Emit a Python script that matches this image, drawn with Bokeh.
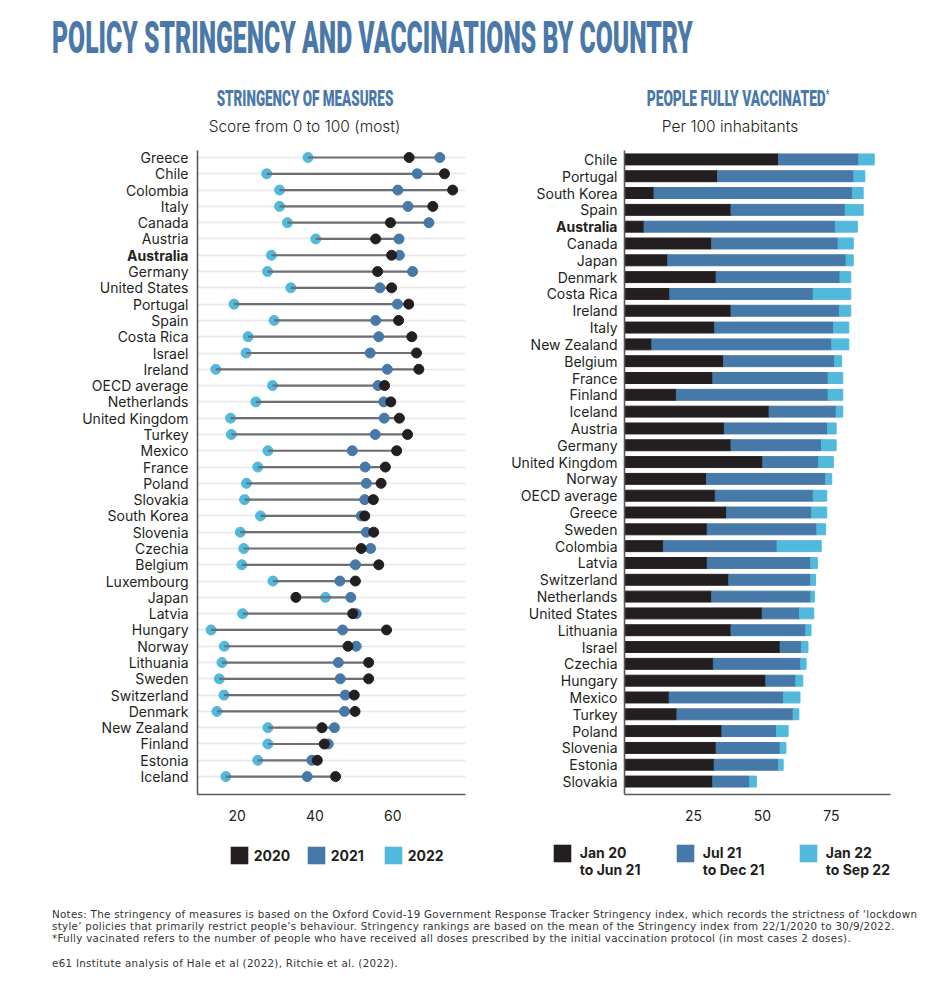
from bokeh.plotting import figure
from bokeh.models import Range1d, FixedTicker, Legend, LegendItem, Div, ColumnDataSource
from bokeh.layouts import row, column
from bokeh.embed import file_html
from bokeh.resources import INLINE
from bokeh.core.properties import value

FONT = "Inter"
BLACK = "#231f20"
BLUE = "#4678a8"
LIGHT = "#50b9dc"
TITLE_BLUE = "#4a78a8"
TEXT = "#231f20"

# ---------------- data: stringency of measures ----------------
strin_countries = ["Greece", "Chile", "Colombia", "Italy", "Canada", "Austria", "Australia",
                   "Germany", "United States", "Portugal", "Spain", "Costa Rica", "Israel",
                   "Ireland", "OECD average", "Netherlands", "United Kingdom", "Turkey",
                   "Mexico", "France", "Poland", "Slovakia", "South Korea", "Slovenia",
                   "Czechia", "Belgium", "Luxembourg", "Japan", "Latvia", "Hungary", "Norway",
                   "Lithuania", "Sweden", "Switzerland", "Denmark", "New Zealand", "Finland",
                   "Estonia", "Iceland"]
strin_2020 = [64.2, 73.3, 75.4, 70.3, 59.4, 55.6, 59.7, 56.1, 59.7, 64.1, 61.5, 64.9, 66.1,
              66.7, 57.9, 59.5, 61.7, 63.8, 61.0, 58.1, 57.0, 55.0, 52.8, 55.1, 51.9, 56.4,
              50.4, 35.1, 49.7, 58.4, 48.5, 53.8, 53.8, 50.1, 50.3, 41.8, 42.4, 40.6, 45.3]
strin_2021 = [72.1, 66.3, 61.3, 63.9, 69.3, 61.6, 61.7, 65.1, 56.7, 61.2, 55.6, 56.4, 54.2,
              58.6, 56.2, 57.7, 57.8, 55.5, 49.6, 52.9, 53.2, 52.8, 51.9, 53.2, 54.3, 50.4,
              46.4, 49.2, 50.6, 47.1, 50.6, 46.0, 46.5, 47.8, 47.6, 45.0, 43.4, 39.2, 38.0]
strin_2022 = [38.2, 27.6, 30.9, 30.9, 32.9, 40.2, 28.8, 27.8, 33.8, 19.2, 29.5, 22.8, 22.3,
              14.5, 29.1, 24.8, 18.3, 18.5, 27.9, 25.3, 22.4, 21.9, 26.0, 20.8, 21.7, 21.2,
              29.2, 42.7, 21.4, 13.3, 16.7, 16.1, 15.4, 16.6, 14.8, 27.9, 27.9, 25.3, 17.1]
strin_ticks = [20, 40, 60]
strin_years = ["2020", "2021", "2022"]

# ---------------- data: people fully vaccinated ----------------
vax_countries = ["Chile", "Portugal", "South Korea", "Spain", "Australia", "Canada", "Japan",
                 "Denmark", "Costa Rica", "Ireland", "Italy", "New Zealand", "Belgium",
                 "France", "Finland", "Iceland", "Austria", "Germany", "United Kingdom",
                 "Norway", "OECD average", "Greece", "Sweden", "Colombia", "Latvia",
                 "Switzerland", "Netherlands", "United States", "Lithuania", "Israel",
                 "Czechia", "Hungary", "Mexico", "Turkey", "Poland", "Slovenia", "Estonia",
                 "Slovakia"]
vax_jan20_jun21 = [55.8, 33.7, 10.7, 38.6, 7.1, 31.6, 15.7, 33.2, 16.4, 38.6, 32.7, 9.9, 35.9,
                   32.0, 18.8, 52.4, 36.2, 38.6, 50.1, 29.7, 32.9, 37.0, 30.0, 14.1, 30.0,
                   37.8, 31.6, 49.9, 38.6, 56.4, 32.2, 51.2, 16.2, 19.0, 35.3, 33.2, 32.5, 32.0]
vax_jul21_dec21 = [29.1, 49.4, 71.9, 41.4, 69.3, 45.8, 64.6, 44.9, 52.0, 39.3, 43.1, 65.2, 40.2,
                   41.8, 55.0, 24.3, 37.4, 32.8, 20.3, 43.2, 35.5, 30.8, 39.7, 41.2, 37.5,
                   29.7, 35.9, 13.5, 27.1, 7.7, 31.7, 10.9, 41.4, 42.1, 19.8, 23.2, 23.3, 13.4]
vax_jan22_sep22 = [5.6, 4.0, 3.9, 6.5, 8.0, 5.5, 2.6, 3.9, 13.6, 4.1, 5.5, 6.2, 2.6,
                   5.3, 5.3, 2.4, 3.1, 5.3, 5.3, 2.2, 4.9, 5.5, 3.2, 16.0, 2.4,
                   1.7, 1.3, 5.2, 1.9, 2.4, 1.9, 2.5, 6.0, 2.1, 4.2, 2.1, 1.7, 2.4]
vax_ticks = [25, 50, 75]
vax_periods = ["Jan 20\nto Jun 21", "Jul 21\nto Dec 21", "Jan 22\nto Sep 22"]

HIGHLIGHT = "Australia"
COLORS = [BLACK, BLUE, LIGHT]


def style_axes(p, xticks, yticks):
    for ax in (p.xaxis[0], p.yaxis[0]):
        ax.axis_line_color = "#58595b"
        ax.axis_line_width = 1.6
        ax.major_tick_line_color = None
        ax.minor_tick_line_color = None
        ax.major_label_text_font = FONT
        ax.major_label_text_font_size = "14px"
        ax.major_label_text_color = TEXT
    p.xaxis[0].ticker = FixedTicker(ticks=xticks)
    p.xaxis[0].major_label_standoff = 9
    p.yaxis[0].ticker = FixedTicker(ticks=yticks)
    p.yaxis[0].major_label_standoff = 0
    p.yaxis[0].major_label_overrides = {t: "" for t in yticks}
    p.outline_line_color = None
    p.xgrid.visible = False
    p.background_fill_color = None
    p.border_fill_color = None


def label_column(names, y_range, width, height, top, bottom, standoff):
    src = ColumnDataSource(dict(pos=list(range(len(names))), name=names,
                                style=["bold" if n == HIGHLIGHT else "normal" for n in names]))
    f = figure(width=width, height=height, x_range=Range1d(0, 1), y_range=y_range,
               output_backend="svg", toolbar_location=None, x_axis_location=None,
               y_axis_location=None, min_border_left=0, min_border_right=0,
               min_border_top=top, min_border_bottom=bottom)
    f.grid.visible = False
    f.outline_line_color = None
    f.background_fill_color = None
    f.border_fill_color = None
    f.text(x=1, y="pos", text="name", source=src, text_align="right", text_baseline="middle",
           x_offset=-standoff, text_font=value(FONT), text_font_size="14px",
           text_font_style="style", text_color=TEXT)
    return f


def legend_fig(width, height, labels, source, fields, loc, standoff, label_width, spacing):
    # both ranges lie outside every data value and the bars have zero height, so the
    # renderers draw nothing in the frame; they only lend the legend its colour swatches
    f = figure(width=width, height=height, x_range=Range1d(-3, -2), y_range=Range1d(-3, -2),
               output_backend="svg", toolbar_location=None, x_axis_location=None,
               y_axis_location=None, min_border=0)
    f.grid.visible = False
    f.outline_line_color = None
    f.background_fill_color = None
    f.border_fill_color = None
    rr = [f.hbar(y="pos", left=fld, right=fld, height=0, source=source,
                 fill_color=c, line_color=None)
          for fld, c in zip(fields, COLORS)]
    leg = Legend(items=[LegendItem(label=lab, renderers=[r]) for lab, r in zip(labels, rr)],
                 location=loc, orientation="horizontal", glyph_width=22, glyph_height=22,
                 label_standoff=standoff, label_width=label_width, spacing=spacing, padding=0,
                 margin=0, border_line_color=None, background_fill_alpha=0,
                 label_text_font=FONT, label_text_font_size="14px", label_text_font_style="bold",
                 label_text_color=TEXT, label_height=22, label_text_line_height=1.15)
    f.add_layout(leg)
    return f


# ---------------- left: stringency dumbbell ----------------
n1 = len(strin_countries)
pos1 = list(range(n1))
yr1 = Range1d(n1 - 1 + 1.1, -0.43)
src1 = ColumnDataSource(dict(
    pos=pos1, y20=strin_2020, y21=strin_2021, y22=strin_2022,
    lo=[min(a, b, c) for a, b, c in zip(strin_2020, strin_2021, strin_2022)],
    hi=[max(a, b, c) for a, b, c in zip(strin_2020, strin_2021, strin_2022)],
))
p1 = figure(width=309, height=690, x_range=Range1d(9.8, 78.7), y_range=yr1,
            output_backend="svg", toolbar_location=None,
            min_border_left=0, min_border_right=35, min_border_top=6, min_border_bottom=36)
style_axes(p1, strin_ticks, pos1)
p1.ygrid[0].ticker = FixedTicker(ticks=pos1)
p1.ygrid[0].grid_line_color = "#e8e8e8"
p1.ygrid[0].grid_line_width = 1.5

p1.scatter("y22", "pos", source=src1, size=10, color=LIGHT)
p1.segment(x0="lo", y0="pos", x1="hi", y1="pos", source=src1, line_color="#6d6e71", line_width=2.2)
p1.scatter("y21", "pos", source=src1, size=10, color=BLUE)
p1.scatter("y20", "pos", source=src1, size=10, color=BLACK)

lab1 = label_column(strin_countries, yr1, 191, 690, 6, 36, 3)

# ---------------- right: vaccination stacked bars ----------------
n2 = len(vax_countries)
pos2 = list(range(n2))
yr2 = Range1d(n2 - 1 + 0.77, -0.53)
src2 = ColumnDataSource(dict(pos=pos2, a=vax_jan20_jun21, b=vax_jul21_dec21, c=vax_jan22_sep22))
p2 = figure(width=326, height=690, x_range=Range1d(0, 96.4), y_range=yr2,
            output_backend="svg", toolbar_location=None,
            min_border_left=0, min_border_right=54, min_border_top=10, min_border_bottom=35)
style_axes(p2, vax_ticks, pos2)
p2.ygrid.visible = False
p2.hbar_stack(["a", "b", "c"], y="pos", height=0.65, color=COLORS, source=src2)

lab2 = label_column(vax_countries, yr2, 118, 690, 10, 35, 1)

# ---------------- legends ----------------
legf1 = legend_fig(500, 60, strin_years, src1, ["y20", "y21", "y22"], (227.8, 24), 4, 40, 11)
legf2 = legend_fig(444, 60, ["\n" + s for s in vax_periods], src2, ["a", "b", "c"],
                   (50.8, 12), 7, 94, 0)

# ---------------- titles & notes ----------------
def cond(text, cx, top, size, scale):
    return (f'<div style="position:absolute;left:{cx-250}px;top:{top}px;width:500px;text-align:center;'
            f'white-space:nowrap;font-family:Roboto;font-weight:900;font-size:{size}px;line-height:1;'
            f'color:{TITLE_BLUE};transform:scaleX({scale});transform-origin:50% 0;">{text}</div>')


def sub(text, cx, top):
    return (f'<div style="position:absolute;left:{cx-200}px;top:{top}px;width:400px;text-align:center;'
            f'white-space:nowrap;font-family:Inter;font-weight:300;font-size:15.5px;line-height:1;'
            f'color:{TEXT};">{text}</div>')


top_html = (
    '<div style="position:relative;width:944px;height:140px;">'
    f'<div style="position:absolute;left:52px;top:16px;white-space:nowrap;font-family:Roboto;'
    f'font-weight:900;font-size:44px;line-height:1;color:{TITLE_BLUE};transform:scaleX(0.562);'
    'transform-origin:0 0;">POLICY STRINGENCY AND VACCINATIONS BY COUNTRY</div>'
    + cond("STRINGENCY OF MEASURES", 304.5, 88, 22, 0.612)
    + cond('PEOPLE FULLY VACCINATED<span style="font-size:12px;vertical-align:top;">*</span>', 738, 88, 22, 0.625)
    + sub("Score from 0 to 100 (most)", 304.5, 119)
    + sub("Per 100 inhabitants", 730, 119)
    + '</div>'
)
top_div = Div(text=top_html, width=944, height=140, margin=(0, 0, 0, 0))

note_lines = [
    "Notes: The stringency of measures is based on the Oxford Covid-19 Government Response Tracker Stringency index, which records the strictness of \u2018lockdown",
    "style\u2019 policies that primarily restrict people\u2019s behaviour. Stringency rankings are based on the mean of the Stringency index from 22/1/2020 to 30/9/2022.",
    "*Fully vacinated refers to the number of people who have received all doses prescribed by the initial vaccination protocol (in most cases 2 doses).",
    "",
    "e61 Institute analysis of Hale et al (2022), Ritchie et al. (2022).",
]
tops = [18, 30, 42, None, 67]
notes_parts = ['<div style="position:relative;width:944px;height:90px;">']
for line, t in zip(note_lines, tops):
    if t is None:
        continue
    notes_parts.append(
        f'<div style="position:absolute;left:52px;top:{t}px;font-family:\'DejaVu Sans\';font-size:10.3px;'
        f'letter-spacing:0.3px;line-height:12px;color:#333;white-space:nowrap;">{line}</div>')
notes_parts.append('</div>')
notes_div = Div(text="".join(notes_parts), width=944, height=90, margin=(0, 0, 0, 0))

layout = column(top_div, row(lab1, p1, lab2, p2), row(legf1, legf2), notes_div)
open("out.html", "w").write(file_html(layout, INLINE))
